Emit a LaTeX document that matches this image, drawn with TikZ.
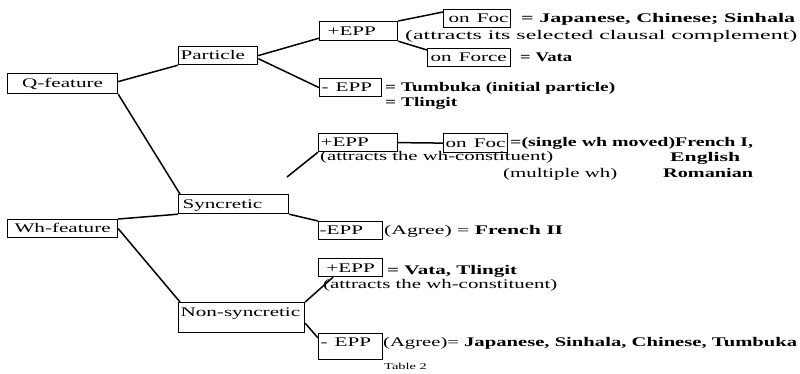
\documentclass[tikz,border=0pt]{standalone}
\usepackage{fontspec}
\setmainfont{Liberation Serif}
\usepackage{graphicx}
\usepackage{tikz}

\newcommand{\lbl}{\fontsize{13.2}{15}\selectfont}
\newcommand{\wide}[1]{\scalebox{1.6}[1]{#1}}
\newcommand{\fitw}[2]{\resizebox{#1pt}{\height}{#2}}

\begin{document}
\begin{tikzpicture}[x=1pt,y=-1pt,
    box/.style={draw, line width=1.2pt, inner sep=0pt, anchor=north west, align=left, font=\lbl},
    note/.style={anchor=base west, inner sep=0pt, font=\lbl},
    lang/.style={note, font=\lbl\bfseries},
    every edge/.style={draw, line width=1.5pt}
  ]
    \useasboundingbox (0,0) rectangle (800,373);

    % Q-feature branch
    \node[box, align=center, text width=110pt, text height=14pt, text depth=6pt] (qf)    at (7,73)   {\wide{Q-feature}};
    \node[box, text width=79pt, text height=13pt, text depth=5pt]                (part)  at (178,46) {\hspace*{2pt}\wide{Particle}};
    \node[box, text width=78pt, text height=13.5pt, text depth=5.5pt]            (pepp1) at (319,21) {\hspace*{8pt}\wide{+EPP}};
    \node[box, text width=62pt, text height=13pt, text depth=5pt]                (mepp1) at (319,78) {\hspace*{2pt}\wide{- EPP}};
    \node[box, text width=67pt, text height=13pt, text depth=4.5pt]              (foc1)  at (443,9)  {\hspace*{5pt}\wide{on Foc}};
    \node[box, text width=83pt, text height=13pt, text depth=5pt]                (force) at (427,48) {\hspace*{3pt}\wide{on Force}};

    % Wh-feature branch
    \node[box, align=center, text width=110pt, text height=13pt, text depth=5pt] (wh)    at (7,219)   {\wide{Wh-feature}};
    \node[box, text width=110pt, text height=13.5pt, text depth=5.5pt]           (syn)   at (178,194) {\hspace*{4pt}\wide{Syncretic}};
    \node[box, text width=79pt, text height=13pt, text depth=5pt]                (pepp2) at (318,133) {\hspace*{2pt}\wide{+EPP}};
    \node[box, text width=64pt, text height=13.5pt, text depth=5.5pt]            (foc2)  at (443,133) {\hspace*{2pt}\wide{on Foc}};
    \node[box, text width=64pt, text height=13pt, text depth=5pt]                (mepp2) at (318,221) {\hspace*{1pt}\wide{-EPP}};
    \node[box, text width=126pt, text height=14pt, text depth=16pt]              (nsyn)  at (178,302) {\hspace*{2pt}\wide{Non-syncretic}};
    \node[box, align=center, text width=64pt, text height=14pt, text depth=4pt]  (pepp3) at (318,258) {\wide{+EPP}};
    \node[box, text width=64pt, text height=13pt, text depth=13pt]               (mepp3) at (318,333) {\hspace*{2pt}\wide{- EPP}};
    \coordinate (gap) at (287,177);

    \path ([yshift=2pt]qf.east)         edge (part.south west)
          (qf.south east)               edge ([xshift=2pt]syn.north west)
          (part.east)                   edge ([yshift=3pt]pepp1.south west)
          ([yshift=-3pt]part.east)      edge (mepp1.west)
          (pepp1.north east)            edge ([yshift=-3pt]foc1.north west)
          (pepp1.south east)            edge ([yshift=-2pt]force.north west)
          (wh.north east)               edge (syn.south west)
          (wh.east)                     edge ([xshift=2pt]nsyn.north west)
          (syn.south east)              edge (mepp2.north west)
          (gap)                         edge (pepp2.south west)
          (pepp2.east)                  edge (foc2.west)
          (nsyn.north east)             edge ([xshift=15pt]pepp3.south west)
          ([yshift=10pt]nsyn.south east) edge ([yshift=-5pt]mepp3.north west);

    % languages and remarks
    \node[lang] (jap)     at (521,22)  {\fitw{274}{= Japanese, Chinese; Sinhala}};
    \node[note] (clause)  at (405,39)  {\fitw{392}{(attracts its selected clausal complement)}};
    \node[lang] (vata1)   at (520,61)  {\fitw{52}{= Vata}};
    \node[lang] (tumb)    at (385,91)  {\fitw{230}{= Tumbuka (initial particle)}};
    \node[lang] (tling)   at (385,106) {\fitw{72}{= Tlingit}};
    \node[lang] (french1) at (510,146) {\fitw{243}{=(single wh moved)French I,}};
    \node[note] (attr1)   at (320,160) {\fitw{233}{(attracts the wh-constituent)}};
    \node[lang] (engl)    at (670,161) {\fitw{70}{English}};
    \node[note] (multi)   at (503,177) {\fitw{114}{(multiple wh)}};
    \node[lang] (roman)   at (663,177) {\fitw{90}{Romanian}};
    \node[note] (french2) at (384,234) {\fitw{179}{(Agree) = \textbf{French II}}};
    \node[lang] (vata2)   at (387,274) {\fitw{130}{= Vata, Tlingit}};
    \node[note] (attr2)   at (323,288) {\fitw{234}{(attracts the wh-constituent)}};
    \node[note] (agree)   at (383,346) {\fitw{414}{(Agree)= \textbf{Japanese, Sinhala, Chinese, Tumbuka}}};
    \node[note, font=\fontsize{9}{10}\selectfont] (caption) at (384,369) {\wide{Table 2}};
\end{tikzpicture}
\end{document}
